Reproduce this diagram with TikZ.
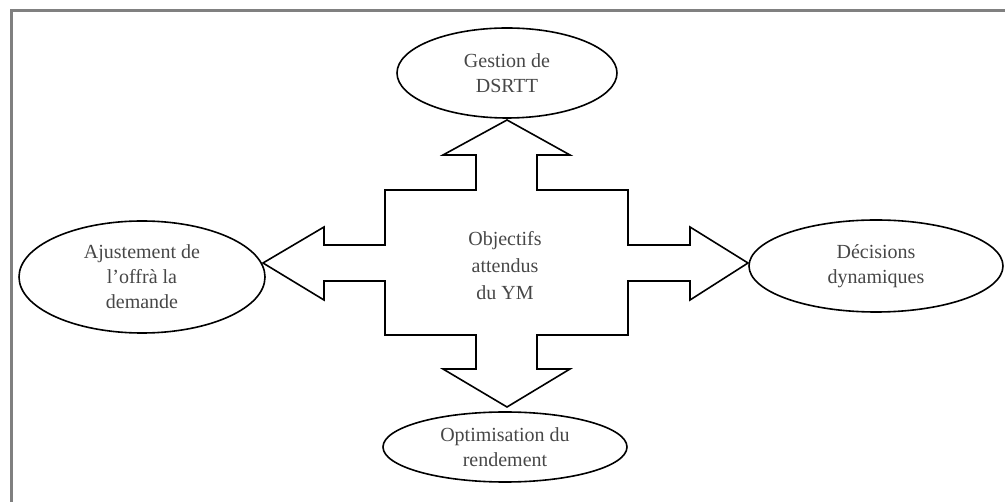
\documentclass[tikz,border=0pt]{standalone}
\usepackage{fontspec}
\setmainfont{Liberation Serif}
\usetikzlibrary{shapes.geometric}
\begin{document}
\begin{tikzpicture}[x=1pt,y=-1pt,
  goal/.style={ellipse,draw=black,line width=1.6pt,inner sep=0pt,
    align=center,text=black!72,font=\fontsize{20}{25}\selectfont},
  hub/.style={align=center,text=black!72,font=\fontsize{20}{27}\selectfont},
  crossline/.style={draw=black,line width=1.6pt,line join=miter},
  frameline/.style={draw=black!50,line width=3pt}]
\useasboundingbox (0,0) rectangle (1005,502);
% frame
\draw[frameline] (11,502) -- (11,11) -- (1005,11);
% four-way arrow block
\path[crossline]
  (385,190) -- (476,190) -- (476,155) -- (443,155) -- (507,120) -- (570,155)
  -- (537,155) -- (537,190) -- (628,190) -- (628,245) -- (690,245) -- (690,227)
  -- (748,263) -- (690,300) -- (690,281) -- (628,281) -- (628,335) -- (537,335)
  -- (537,369) -- (570,369) -- (507,407) -- (443,369) -- (476,369) -- (476,335)
  -- (385,335) -- (385,281) -- (324,281) -- (324,300) -- (263,263) -- (324,227)
  -- (324,245) -- (385,245) -- cycle;
\node[hub] (hub) at (505,266) {Objectifs\\attendus\\du YM};
% goals
\node[goal,minimum width=220pt,minimum height=90pt] (top) at (507,73) {Gestion de\\DSRTT};
\node[goal,minimum width=246pt,minimum height=112pt] (left) at (142,277) {Ajustement de\\l’offrà la\\demande};
\node[goal,minimum width=254pt,minimum height=92pt] (right) at (876,266) {Décisions\\dynamiques};
\node[goal,minimum width=244pt,minimum height=70pt] (bottom) at (505,447) {Optimisation du\\rendement};
\end{tikzpicture}
\end{document}
